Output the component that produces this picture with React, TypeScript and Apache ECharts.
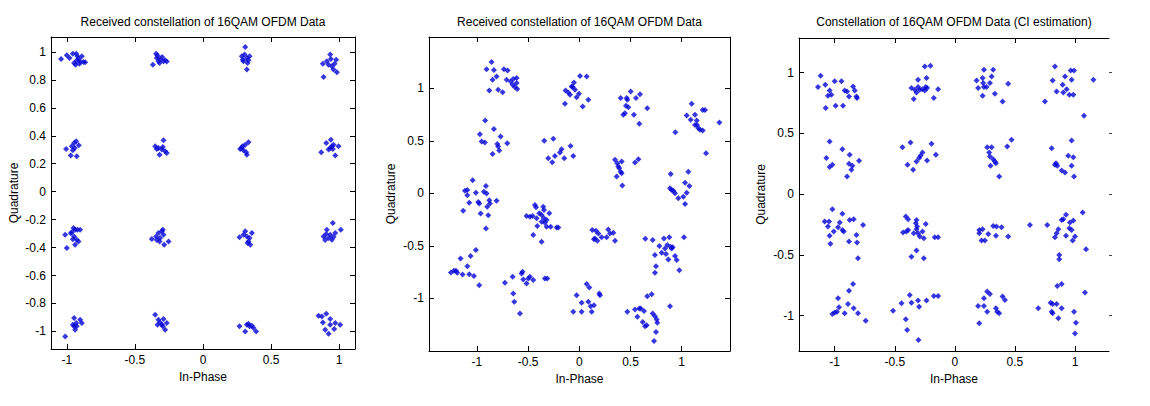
import React, { useEffect, useRef } from "react";
import * as echarts from "echarts";

const TITLES = [
  "Received constellation of 16QAM OFDM Data",
  "Received constellation of 16QAM OFDM Data",
  "Constellation of 16QAM OFDM Data (CI estimation)",
];
const X_NAME = "In-Phase";
const Y_NAME = "Quadrature";
const X_TICKS = [-1, -0.5, 0, 0.5, 1];
const Y_TICKS_1 = [-1, -0.8, -0.6, -0.4, -0.2, 0, 0.2, 0.4, 0.6, 0.8, 1];
const Y_TICKS_23 = [-1, -0.5, 0, 0.5, 1];

// Plot 1: received constellation (tight clusters)
const POINTS_1: [number, number][] = [
  [-1.042, 0.95], [-1.0, 0.976], [-0.98, 0.957], [-0.956, 0.988], [-0.931, 0.988], [-0.946, 0.921], [-0.927, 0.938], [-0.914, 0.952], [-0.902, 0.933], [-0.89, 0.969], [-0.907, 0.916], [-0.878, 0.928], [-0.865, 0.926], [-0.922, 0.969], [-0.936, 0.909],
  [-0.368, 0.909], [-0.344, 0.988], [-0.339, 0.957], [-0.327, 0.933], [-0.315, 0.95], [-0.3, 0.964], [-0.29, 0.933], [-0.278, 0.94], [-0.266, 0.931], [-0.319, 0.921], [-0.334, 0.974],
  [0.31, 1.036], [0.285, 0.969], [0.297, 0.933], [0.322, 0.957], [0.342, 0.969], [0.305, 0.981], [0.327, 0.921], [0.322, 0.874], [0.292, 0.945], [0.334, 0.94],
  [0.885, 0.821], [0.88, 0.916], [0.909, 0.933], [0.934, 0.981], [0.922, 0.909], [0.946, 0.897], [0.958, 0.874], [0.983, 0.854], [0.978, 0.945], [0.939, 0.95], [0.966, 0.916],
  [-1.005, 0.305], [-0.963, 0.325], [-0.946, 0.348], [-0.931, 0.36], [-0.912, 0.332], [-0.971, 0.258], [-0.927, 0.253], [-0.956, 0.296], [-0.941, 0.313],
  [-0.351, 0.325], [-0.327, 0.313], [-0.29, 0.368], [-0.319, 0.265], [-0.302, 0.301], [-0.278, 0.289], [-0.266, 0.277], [-0.339, 0.306], [-0.295, 0.32],
  [0.273, 0.305], [0.29, 0.325], [0.31, 0.336], [0.334, 0.353], [0.317, 0.282], [0.297, 0.296], [0.283, 0.313], [0.322, 0.265],
  [0.868, 0.282], [0.905, 0.348], [0.939, 0.372], [0.946, 0.325], [0.922, 0.301], [0.958, 0.336], [0.995, 0.325], [0.971, 0.258], [0.934, 0.313], [0.953, 0.305],
  [-1.012, -0.308], [-1.0, -0.403], [-0.963, -0.291], [-0.951, -0.26], [-0.939, -0.272], [-0.922, -0.272], [-0.902, -0.272], [-0.946, -0.32], [-0.927, -0.344], [-0.939, -0.38], [-0.914, -0.356], [-0.971, -0.298], [-0.956, -0.341],
  [-0.376, -0.339], [-0.344, -0.32], [-0.327, -0.296], [-0.302, -0.284], [-0.29, -0.308], [-0.315, -0.332], [-0.285, -0.38], [-0.253, -0.356], [-0.339, -0.346], [-0.295, -0.272], [-0.319, -0.356],
  [0.268, -0.327], [0.31, -0.284], [0.322, -0.32], [0.327, -0.368], [0.342, -0.332], [0.359, -0.296], [0.297, -0.308], [0.334, -0.356], [0.347, -0.38],
  [0.885, -0.32], [0.897, -0.346], [0.909, -0.272], [0.934, -0.308], [0.953, -0.224], [0.971, -0.296], [1.012, -0.272], [0.922, -0.332], [0.946, -0.344], [0.958, -0.325], [0.904, -0.303],
  [-1.012, -1.036], [-0.946, -0.905], [-0.956, -0.952], [-0.939, -0.988], [-0.931, -0.94], [-0.902, -0.916], [-0.89, -0.94], [-0.946, -0.964], [-0.927, -0.964],
  [-0.351, -0.881], [-0.327, -0.916], [-0.315, -0.936], [-0.302, -0.952], [-0.278, -0.988], [-0.266, -0.94], [-0.334, -0.952], [-0.29, -0.912], [-0.295, -0.964],
  [0.268, -0.964], [0.322, -0.952], [0.342, -0.964], [0.359, -0.959], [0.31, -1.0], [0.39, -1.0], [0.371, -0.976], [0.334, -0.945],
  [0.848, -0.888], [0.905, -0.874], [0.88, -0.936], [0.934, -0.912], [0.971, -0.94], [1.007, -0.952], [0.897, -0.988], [0.922, -1.017], [0.963, -0.983], [0.934, -0.952], [0.873, -0.893],
];

// Plot 2: received constellation (rotated, noisy)
const POINTS_2: [number, number][] = [
  [-0.857, 1.251], [-0.906, 1.184], [-0.834, 1.175], [-0.808, 1.114], [-0.847, 1.083], [-0.879, 0.981], [-0.792, 0.987], [-0.749, 0.965], [-0.736, 1.184], [-0.7, 1.172], [-0.71, 1.083], [-0.671, 1.067], [-0.645, 1.089], [-0.612, 1.099], [-0.612, 1.051], [-0.629, 1.013], [-0.606, 0.994], [-0.651, 1.035],
  [-0.134, 0.981], [-0.14, 0.854], [-0.091, 0.94], [-0.075, 1.019], [-0.052, 1.057], [-0.042, 0.987], [-0.026, 0.917], [-0.003, 0.949], [0.007, 1.118], [0.033, 0.828], [0.072, 1.114], [0.088, 0.892], [-0.065, 1.013], [-0.107, 0.962],
  [0.404, 0.908], [0.463, 0.908], [0.456, 0.835], [0.43, 0.749], [0.469, 0.892], [0.479, 0.822], [0.502, 0.971], [0.554, 0.908], [0.534, 0.749], [0.586, 0.663], [0.593, 0.946], [0.664, 0.812], [0.446, 0.765],
  [0.938, 0.583], [1.049, 0.742], [1.098, 0.854], [1.13, 0.749], [1.088, 0.701], [1.147, 0.695], [1.13, 0.653], [1.163, 0.622], [1.179, 0.606], [1.205, 0.599], [1.205, 0.796], [1.228, 0.796], [1.238, 0.383], [1.368, 0.676], [1.15, 0.653],
  [-0.971, 0.564], [-0.954, 0.494], [-0.922, 0.485], [-0.919, 0.695], [-0.834, 0.615], [-0.801, 0.472], [-0.792, 0.447], [-0.769, 0.542], [-0.782, 0.409], [-0.704, 0.479], [-0.847, 0.377],
  [-0.342, 0.501], [-0.254, 0.52], [-0.303, 0.335], [-0.264, 0.297], [-0.238, 0.358], [-0.189, 0.39], [-0.173, 0.421], [-0.147, 0.335], [-0.085, 0.453], [-0.059, 0.358],
  [0.349, 0.32], [0.371, 0.288], [0.381, 0.256], [0.391, 0.24], [0.404, 0.208], [0.365, 0.161], [0.414, 0.304], [0.414, 0.192], [0.42, 0.075], [0.544, 0.294], [0.577, 0.326],
  [0.893, 0.186], [0.886, 0.049], [0.902, 0.033], [0.919, 0.027], [0.935, 0.002], [0.967, -0.046], [1.033, 0.103], [1.065, 0.208], [1.049, 0.008], [1.075, 0.072], [1.033, -0.1], [1.016, -0.03],
  [-1.134, -0.165], [-1.117, 0.025], [-1.094, 0.032], [-1.094, -0.016], [-1.075, -0.089], [-1.042, 0.127], [-1.01, 0.006], [-0.987, -0.08], [-0.964, -0.191], [-0.932, 0.016], [-0.912, 0.07], [-0.906, 0.0], [-0.899, -0.127], [-0.889, -0.207], [-0.879, -0.064], [-0.912, -0.334], [-0.873, -0.095], [-0.808, -0.07], [-0.977, -0.095],
  [-0.515, -0.215], [-0.482, -0.221], [-0.456, -0.215], [-0.433, -0.11], [-0.423, -0.132], [-0.391, -0.189], [-0.417, -0.237], [-0.368, -0.205], [-0.368, -0.269], [-0.352, -0.126], [-0.345, -0.237], [-0.336, -0.278], [-0.319, -0.253], [-0.293, -0.189], [-0.28, -0.316], [-0.221, -0.323], [-0.205, -0.323], [-0.45, -0.396], [-0.41, -0.31], [-0.368, -0.459], [-0.345, -0.157], [-0.319, -0.316],
  [0.127, -0.348], [0.143, -0.437], [0.163, -0.355], [0.176, -0.45], [0.186, -0.38], [0.218, -0.418], [0.267, -0.418], [0.283, -0.342], [0.3, -0.38], [0.332, -0.374], [0.349, -0.45], [0.153, -0.428],
  [0.645, -0.431], [0.717, -0.444], [0.739, -0.587], [0.749, -0.692], [0.739, -0.755], [0.782, -0.501], [0.805, -0.564], [0.827, -0.428], [0.837, -0.523], [0.847, -0.577], [0.86, -0.491], [0.87, -0.628], [0.879, -0.418], [0.893, -0.507], [0.902, -0.523], [0.912, -0.513], [0.935, -0.596], [0.951, -0.634], [0.977, -0.73], [1.023, -0.418],
  [-1.254, -0.752], [-1.225, -0.736], [-1.205, -0.736], [-1.192, -0.755], [-1.16, -0.618], [-1.14, -0.771], [-1.094, -0.692], [-1.062, -0.596], [-1.029, -0.787], [-1.01, -0.539], [-0.977, -0.873], [-1.075, -0.768],
  [-0.726, -0.851], [-0.651, -0.793], [-0.645, -0.952], [-0.635, -1.032], [-0.58, -1.143], [-0.564, -0.762], [-0.554, -0.746], [-0.547, -0.819], [-0.515, -0.857], [-0.482, -0.793], [-0.45, -0.825], [-0.336, -0.809], [-0.313, -0.809], [-0.498, -0.809],
  [-0.059, -1.127], [-0.026, -0.968], [0.023, -1.041], [0.023, -1.127], [0.072, -0.863], [0.098, -0.895], [0.088, -1.032], [0.111, -1.073], [0.121, -1.127], [0.143, -1.064], [0.195, -0.952], [0.202, -0.968],
  [0.469, -1.127], [0.544, -1.105], [0.567, -1.175], [0.599, -1.095], [0.619, -1.223], [0.632, -1.118], [0.642, -1.264], [0.658, -1.254], [0.664, -0.978], [0.707, -0.959], [0.717, -1.143], [0.739, -1.169], [0.756, -1.2], [0.762, -1.232], [0.749, -1.318], [0.73, -1.404], [0.886, -1.073], [0.586, -1.095],
];

// Plot 3: constellation after channel estimation
const POINTS_3: [number, number][] = [
  [-1.117, 0.975], [-1.139, 0.882], [-1.078, 0.901], [-1.075, 0.709], [-1.042, 0.854], [-1.056, 0.81], [-1.028, 0.819], [-1.0, 0.929], [-0.992, 0.728], [-0.944, 0.929], [-0.931, 0.728], [-0.917, 0.854], [-0.897, 0.846], [-0.881, 0.805], [-0.847, 0.887], [-0.833, 0.854], [-0.819, 0.805], [-0.814, 0.791],
  [-0.25, 1.052], [-0.203, 1.058], [-0.306, 0.942], [-0.236, 0.956], [-0.361, 0.874], [-0.333, 0.86], [-0.306, 0.882], [-0.292, 0.86], [-0.269, 0.865], [-0.25, 0.854], [-0.242, 0.882], [-0.231, 0.874], [-0.139, 0.865], [-0.175, 0.791], [-0.342, 0.783], [-0.319, 0.838],
  [0.242, 1.025], [0.319, 1.025], [0.306, 0.97], [0.181, 0.937], [0.231, 0.956], [0.236, 0.915], [0.194, 0.874], [0.242, 0.882], [0.264, 0.882], [0.333, 0.827], [0.444, 0.909], [0.231, 0.81], [0.397, 0.764], [0.292, 0.915],
  [0.833, 1.052], [0.964, 1.019], [0.972, 0.942], [0.917, 0.97], [0.814, 0.937], [0.897, 0.901], [0.847, 0.846], [0.931, 0.865], [0.903, 0.838], [0.953, 0.819], [0.986, 0.819], [0.992, 1.019], [0.75, 0.764], [1.153, 0.942], [1.075, 0.646],
  [-1.042, 0.434], [-1.069, 0.297], [-1.042, 0.223], [-1.019, 0.242], [-0.936, 0.371], [-0.875, 0.324], [-0.881, 0.25], [-0.861, 0.201], [-0.853, 0.234], [-0.797, 0.275], [-0.897, 0.146],
  [-0.436, 0.387], [-0.369, 0.426], [-0.194, 0.415], [-0.269, 0.343], [-0.286, 0.316], [-0.297, 0.297], [-0.158, 0.324], [-0.231, 0.277], [-0.394, 0.242], [-0.347, 0.201], [-0.319, 0.269],
  [0.269, 0.387], [0.306, 0.387], [0.286, 0.343], [0.292, 0.31], [0.319, 0.288], [0.333, 0.269], [0.342, 0.255], [0.297, 0.234], [0.369, 0.146], [0.436, 0.393], [0.472, 0.448],
  [0.806, 0.379], [0.972, 0.442], [0.944, 0.316], [0.986, 0.305], [0.833, 0.242], [0.853, 0.234], [0.842, 0.255], [0.889, 0.195], [0.972, 0.234], [0.917, 0.179], [0.992, 0.146],
  [-1.019, -0.124], [-0.936, -0.162], [-1.083, -0.225], [-1.047, -0.225], [-1.056, -0.266], [-0.958, -0.234], [-0.972, -0.272], [-0.875, -0.212], [-0.842, -0.206], [-0.925, -0.308], [-0.936, -0.294], [-1.008, -0.308], [-1.042, -0.343], [-1.036, -0.409], [-0.881, -0.39], [-0.819, -0.335], [-0.814, -0.398], [-0.806, -0.527], [-0.764, -0.253],
  [-0.408, -0.184], [-0.389, -0.206], [-0.319, -0.212], [-0.325, -0.239], [-0.314, -0.266], [-0.319, -0.288], [-0.431, -0.316], [-0.403, -0.308], [-0.389, -0.294], [-0.342, -0.321], [-0.306, -0.321], [-0.292, -0.349], [-0.269, -0.308], [-0.242, -0.245], [-0.258, -0.363], [-0.167, -0.354], [-0.139, -0.354], [-0.319, -0.464], [-0.361, -0.514], [-0.258, -0.527],
  [0.203, -0.294], [0.231, -0.288], [0.222, -0.382], [0.25, -0.382], [0.278, -0.327], [0.319, -0.261], [0.347, -0.266], [0.389, -0.272], [0.342, -0.343], [0.444, -0.349], [0.203, -0.321],
  [0.625, -0.253], [0.769, -0.253], [0.861, -0.288], [0.925, -0.17], [0.889, -0.212], [0.903, -0.206], [0.958, -0.234], [0.986, -0.217], [0.953, -0.28], [0.972, -0.294], [0.847, -0.321], [0.833, -0.354], [0.925, -0.343], [0.981, -0.382], [1.0, -0.349], [1.064, -0.151], [1.092, -0.453], [0.869, -0.5], [0.869, -0.536],
  [-0.847, -0.739], [-0.881, -0.794], [-0.889, -0.904], [-0.972, -0.857], [-1.019, -0.986], [-1.0, -0.975], [-0.981, -0.967], [-0.964, -0.931], [-0.917, -0.981], [-0.842, -0.94], [-0.806, -0.981], [-0.742, -1.041],
  [-0.514, -0.959], [-0.444, -0.898], [-0.408, -1.03], [-0.397, -1.118], [-0.375, -0.83], [-0.361, -0.893], [-0.306, -0.876], [-0.297, -0.926], [-0.236, -0.876], [-0.175, -0.838], [-0.139, -0.838], [-0.303, -1.201],
  [0.269, -0.802], [0.292, -0.821], [0.242, -0.857], [0.397, -0.843], [0.417, -0.871], [0.194, -0.92], [0.242, -0.92], [0.269, -0.967], [0.342, -0.94], [0.353, -0.967], [0.369, -0.981], [0.203, -1.063],
  [0.853, -0.755], [0.889, -0.739], [0.694, -0.94], [0.797, -0.893], [0.814, -0.904], [0.847, -0.904], [0.889, -0.94], [0.806, -0.967], [0.814, -0.981], [0.861, -1.022], [0.992, -0.967], [1.008, -1.058], [1.0, -1.146], [1.083, -0.81],
];

const FONT = "'Liberation Sans', Arial, sans-serif";
const MARK = "#0505d8";

type Panel = {
  grid: { left: number; top: number; width: number; height: number };
  xr: [number, number];
  yr: [number, number];
  yTicks: number[];
  yNameGap: number;
  rightLine: boolean;
};

const PANELS: Panel[] = [
  { grid: { left: 51, top: 37, width: 304, height: 312 }, xr: [-1.116, 1.116], yr: [-1.126, 1.107], yTicks: Y_TICKS_1, yNameGap: 31, rightLine: true },
  { grid: { left: 429, top: 37, width: 301, height: 314 }, xr: [-1.468, 1.472], yr: [-1.5, 1.49], yTicks: Y_TICKS_23, yNameGap: 32, rightLine: true },
  { grid: { left: 799, top: 38, width: 310, height: 313 }, xr: [-1.297, 1.283], yr: [-1.291, 1.286], yTicks: Y_TICKS_23, yNameGap: 32, rightLine: false },
];

export default function App() {
  const ref = useRef<HTMLDivElement>(null);
  useEffect(() => {
    if (!ref.current) return;
    const chart = echarts.init(ref.current, undefined, { renderer: "svg" });
    const labelStyle = { color: "#000", fontSize: 12, fontFamily: FONT };
    const grids: any[] = [];
    const xAxes: any[] = [];
    const yAxes: any[] = [];
    const titles: any[] = [];
    const series: any[] = [];
    const data = [POINTS_1, POINTS_2, POINTS_3];
    PANELS.forEach((p, i) => {
      grids.push({ ...p.grid, containLabel: false });
      titles.push({
        text: TITLES[i],
        left: p.grid.left + p.grid.width / 2,
        top: 16,
        textAlign: "center",
        padding: 0,
        textStyle: { color: "#000", fontSize: 12, fontWeight: "normal", fontFamily: FONT },
      });
      const line = { show: true, onZero: false, lineStyle: { color: "#000", width: 1 } };
      xAxes.push({
        type: "value", gridIndex: i, position: "bottom", min: p.xr[0], max: p.xr[1],
        name: X_NAME, nameLocation: "middle", nameGap: 21,
        nameTextStyle: { color: "#000", fontSize: 12, fontFamily: FONT },
        axisLine: line,
        axisTick: { show: true, inside: true, length: 5, customValues: X_TICKS, lineStyle: { color: "#000" } },
        axisLabel: { ...labelStyle, margin: 5, customValues: X_TICKS, showMinLabel: true, showMaxLabel: true },
        splitLine: { show: false },
      });
      xAxes.push({
        type: "value", gridIndex: i, position: "top", min: p.xr[0], max: p.xr[1],
        axisLine: line,
        axisTick: { show: true, inside: true, length: 5, customValues: X_TICKS, lineStyle: { color: "#000" } },
        axisLabel: { show: false },
        splitLine: { show: false },
      });
      yAxes.push({
        type: "value", gridIndex: i, position: "left", min: p.yr[0], max: p.yr[1],
        name: Y_NAME, nameLocation: "middle", nameGap: p.yNameGap,
        nameTextStyle: { color: "#000", fontSize: 12, fontFamily: FONT },
        axisLine: line,
        axisTick: { show: true, inside: true, length: 5, customValues: p.yTicks, lineStyle: { color: "#000" } },
        axisLabel: { ...labelStyle, margin: 5, customValues: p.yTicks },
        splitLine: { show: false },
      });
      yAxes.push({
        type: "value", gridIndex: i, position: "right", min: p.yr[0], max: p.yr[1],
        axisLine: { ...line, show: p.rightLine },
        axisTick: { show: true, inside: p.rightLine, length: p.rightLine ? 5 : 3, customValues: p.yTicks, lineStyle: { color: p.rightLine ? "#000" : "#444" } },
        axisLabel: { show: false },
        splitLine: { show: false },
      });
      series.push({
        type: "scatter",
        xAxisIndex: i * 2,
        yAxisIndex: i * 2,
        data: data[i],
        symbol: "diamond",
        symbolSize: 6,
        itemStyle: { color: MARK },
        silent: true,
      });
    });
    chart.setOption({
      animation: false,
      backgroundColor: "#fff",
      title: titles,
      grid: grids,
      xAxis: xAxes,
      yAxis: yAxes,
      series,
    });
    return () => chart.dispose();
  }, []);
  return (
    <div
      ref={ref}
      style={{ position: "fixed", left: 0, top: 0, width: 1150, height: 406, background: "#fff" }}
    />
  );
}
